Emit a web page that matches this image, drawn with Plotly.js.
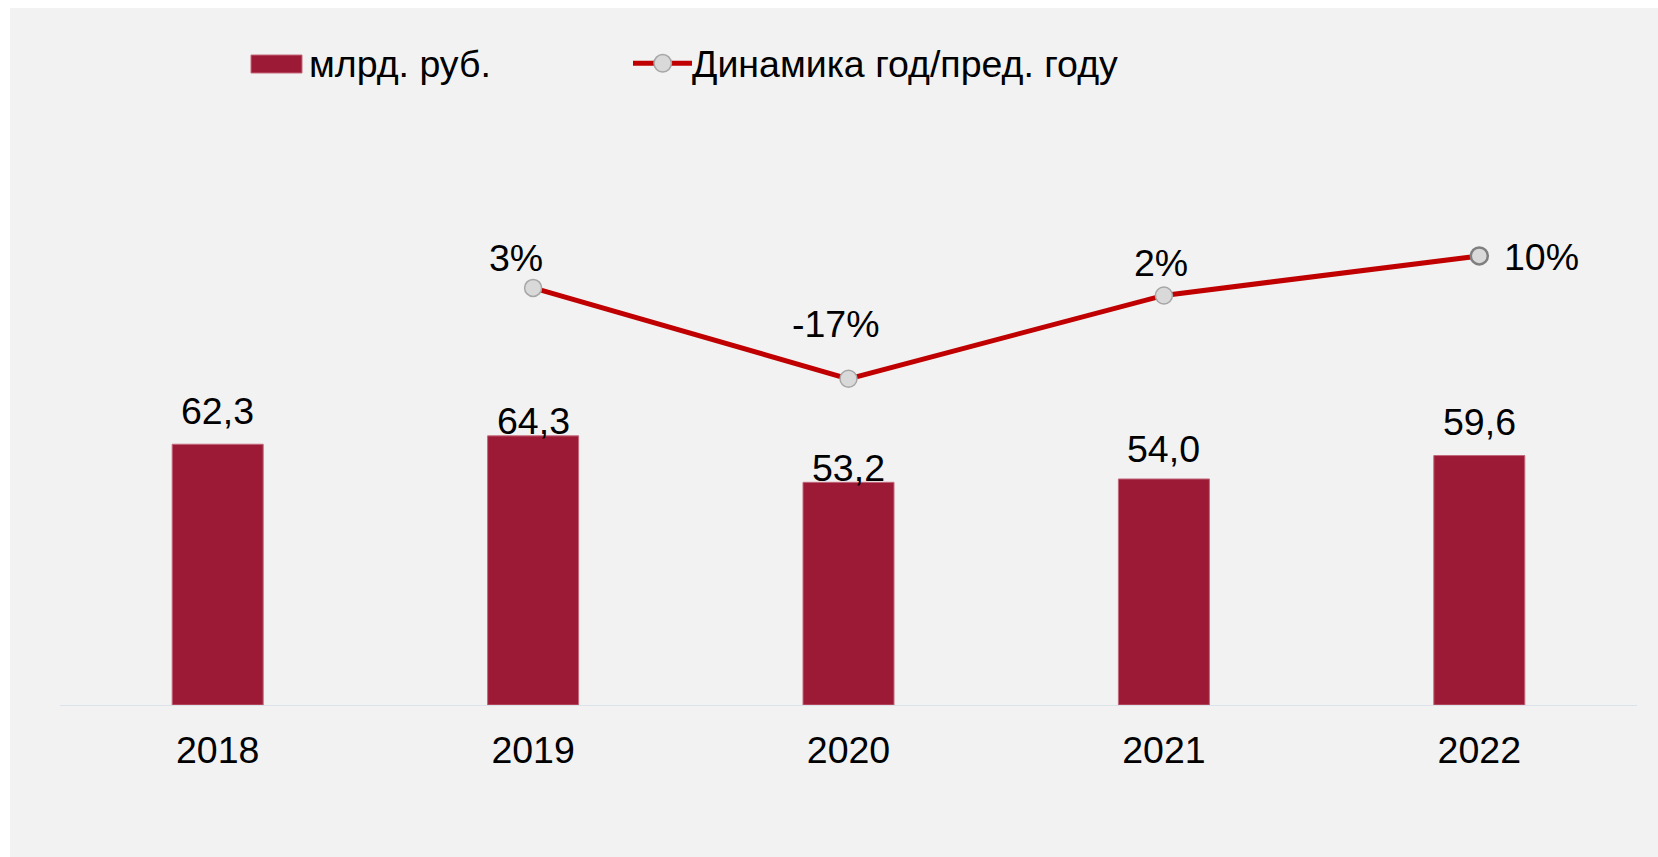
<!DOCTYPE html>
<html>
<head>
<meta charset="utf-8">
<script src="https://cdn.plot.ly/plotly-3.0.1.min.js"></script>
<style>
  html, body { margin: 0; padding: 0; background: #ffffff; width: 1658px; height: 857px; overflow: hidden; }
  #chart { position: absolute; left: 10px; top: 8px; width: 1648px; height: 849px; }
</style>
</head>
<body>
<div id="chart"></div>
<script>
// ---- data ----
const years = ['2018', '2019', '2020', '2021', '2022'];
const valuesBn = [62.3, 64.3, 53.2, 54.0, 59.6];          // млрд. руб.
const growthPct = [null, 3.2, -17.3, 1.5, 10.4];           // Динамика год/пред. году, %
const valueLabels = ['62,3', '64,3', '53,2', '54,0', '59,6'];
const growthLabels = ['', '3%', '-17%', '2%', '10%'];
const seriesNames = ['млрд. руб.', 'Динамика год/пред. году'];

// ---- styling / layout constants ----
const FONT = '"Liberation Sans", Arial, Helvetica, sans-serif';
const FS = 37.5;
const BAR_COLOR = '#9c1a35';
const LINE_COLOR = '#c00000';
const W = 1648, H = 849;
const M = { l: 50, r: 21, t: 142, b: 152 };
const PW = W - M.l - M.r, PH = H - M.t - M.b;
// page pixel -> paper coords (div offset 10, 8)
const px = x => (x - 10 - M.l) / PW;
const py = y => (H - M.b - (y - 8)) / PH;

// label offsets (style only)
const barLabelShift = [33, 15, 14, 30, 34];
const pctLabelShift = [[0, 0], [-17, 30], [-13, 55], [-3, 32], [62, -1]];

const bars = {
  type: 'bar', name: seriesNames[0], x: years, y: valuesBn,
  marker: { color: BAR_COLOR, line: { color: '#c4687b', width: 1 } },
  hoverinfo: 'skip', showlegend: false
};
const line = {
  type: 'scatter', mode: 'lines+markers', name: seriesNames[1], x: years, y: growthPct,
  yaxis: 'y2', connectgaps: false,
  line: { color: LINE_COLOR, width: 5 },
  marker: { size: 17, color: '#d9d9d9',
            line: { color: ['#a6a6a6', '#a6a6a6', '#a6a6a6', '#a6a6a6', '#7f7f7f'], width: [1.5, 1.5, 1.5, 1.5, 2.5] } },
  hoverinfo: 'skip', showlegend: false
};

const annotations = [];
years.forEach((yr, i) => {
  annotations.push({
    x: i, y: valuesBn[i], xref: 'x', yref: 'y', text: valueLabels[i], showarrow: false,
    xanchor: 'center', yanchor: 'middle', yshift: barLabelShift[i],
    font: { family: FONT, size: FS, color: '#000' }
  });
  if (growthPct[i] !== null) {
    annotations.push({
      x: i, y: growthPct[i], xref: 'x', yref: 'y2', text: growthLabels[i], showarrow: false,
      xanchor: 'center', yanchor: 'middle', xshift: pctLabelShift[i][0], yshift: pctLabelShift[i][1],
      font: { family: FONT, size: FS, color: '#000' }
    });
  }
});
// legend texts
annotations.push({ xref: 'paper', yref: 'paper', x: px(307), y: py(63.5), text: seriesNames[0], showarrow: false,
  xanchor: 'left', yanchor: 'middle', font: { family: FONT, size: FS, color: '#000' } });
annotations.push({ xref: 'paper', yref: 'paper', x: px(690), y: py(63.5), text: seriesNames[1], showarrow: false,
  xanchor: 'left', yanchor: 'middle', font: { family: FONT, size: FS, color: '#000' } });

const shapes = [
  { type: 'rect', xref: 'paper', yref: 'paper', x0: px(251), x1: px(302), y0: py(73), y1: py(55),
    fillcolor: BAR_COLOR, line: { color: '#c4687b', width: 1 } },
  { type: 'line', xref: 'paper', yref: 'paper', x0: px(633), x1: px(692), y0: py(63.3), y1: py(63.3),
    line: { color: LINE_COLOR, width: 5 } },
  { type: 'circle', xref: 'paper', yref: 'paper', x0: px(654), x1: px(671.4), y0: py(72), y1: py(54.6),
    fillcolor: '#d9d9d9', line: { color: '#a6a6a6', width: 1.5 } }
];

const layout = {
  width: W, height: H,
  margin: M,
  paper_bgcolor: '#f2f2f2', plot_bgcolor: 'rgba(0,0,0,0)',
  showlegend: false,
  bargap: 0.7115,
  font: { family: FONT, size: FS, color: '#000' },
  xaxis: {
    type: 'category', range: [-0.5, 4.5], autorange: false,
    showline: true, linecolor: '#dbe2ea', linewidth: 1.2,
    ticks: '', showgrid: false, zeroline: false, ticklabelstandoff: 12,
    tickfont: { family: FONT, size: FS, color: '#000' }, fixedrange: true
  },
  yaxis: { range: [0, 132.6], autorange: false, showgrid: false, zeroline: false, showticklabels: false, ticks: '', fixedrange: true },
  yaxis2: { range: [-90.85, 34.29], autorange: false, overlaying: 'y', side: 'right', showgrid: false, zeroline: false,
            showticklabels: false, ticks: '', fixedrange: true },
  annotations: annotations,
  shapes: shapes
};

Plotly.newPlot('chart', [bars, line], layout, { staticPlot: true, displayModeBar: false });
</script>
</body>
</html>
